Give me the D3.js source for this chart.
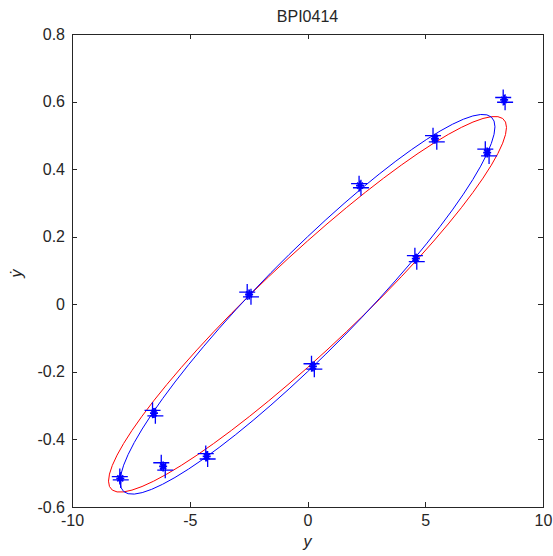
<!DOCTYPE html>
<html>
<head>
<meta charset="utf-8">
<script src="https://cdn.jsdelivr.net/npm/d3@7"></script>
<style>
  body { margin: 0; background: #fff; }
  svg { display: block; font-family: "Liberation Sans", Arial, sans-serif; }
</style>
</head>
<body>
<script>
// ---- data ----
let title = "BPI0414";
let xTicks = [-10, -5, 0, 5, 10];
let yTicks = [-0.6, -0.4, -0.2, 0, 0.2, 0.4, 0.6, 0.8];

// mean of each sample (drawn as a star)
let meanX = [-7.95, -6.52, -6.13, -4.28, -2.48, 0.23, 2.23, 4.60, 5.41, 7.63, 8.35];
let meanY = [-0.515, -0.322, -0.480, -0.450, 0.029, -0.184, 0.351, 0.135, 0.490, 0.449, 0.605];

// the two replicate measurements of each sample (drawn as plus signs)
let rep1X = [-7.97, -6.58, -6.21, -4.32, -2.56, 0.17, 2.19, 4.56, 5.33, 7.55, 8.31];
let rep1Y = [-0.510, -0.314, -0.469, -0.442, 0.036, -0.176, 0.357, 0.144, 0.499, 0.459, 0.612];
let rep2X = [-7.93, -6.46, -6.04, -4.24, -2.40, 0.29, 2.27, 4.64, 5.49, 7.71, 8.39];
let rep2Y = [-0.520, -0.330, -0.491, -0.458, 0.022, -0.192, 0.345, 0.126, 0.481, 0.439, 0.598];

// fitted ellipses: centre, half extent in x and y, correlation of x and y
let ellipseColor   = ["#ff0000", "#0000ff"];
let ellipseCenterX = [0, 0];
let ellipseCenterY = [0, 0];
let ellipseHalfX   = [8.45, 7.96];
let ellipseHalfY   = [0.556, 0.562];
let ellipseCorr    = [0.9415, 0.9347];

// ---- layout ----
let w = 553,
    h = 556,
    mLeft = 72, mRight = 543, mTop = 34, mBottom = 507,
    tick = 5;

let svg = d3.select("body")
            .append("svg")
            .attr("width", w)
            .attr("height", h);

let x = d3.scaleLinear().domain([-10, 10]).range([mLeft, mRight]);
let y = d3.scaleLinear().domain([-0.6, 0.8]).range([mBottom, mTop]);

let fmt = d => String(d).replace("\u2212", "-");

// axes with inward ticks on all four sides (box)
let axisStyle = g => {
  g.selectAll("path, line")
    .attr("stroke", "#262626")
    .attr("shape-rendering", "crispEdges");
  g.selectAll("text")
    .attr("fill", "#262626")
    .attr("font-size", "16px");
};

svg.append("g")
    .attr("transform", `translate(0,${mBottom})`)
    .call(d3.axisBottom(x).tickValues(xTicks).tickSizeInner(-tick).tickSizeOuter(0).tickPadding(8).tickFormat(fmt))
    .call(axisStyle);

svg.append("g")
    .attr("transform", `translate(0,${mTop})`)
    .call(d3.axisTop(x).tickValues(xTicks).tickSizeInner(-tick).tickSizeOuter(0).tickFormat(""))
    .call(axisStyle);

svg.append("g")
    .attr("transform", `translate(${mLeft},0)`)
    .call(d3.axisLeft(y).tickValues(yTicks).tickSizeInner(-tick).tickSizeOuter(0).tickPadding(7).tickFormat(fmt))
    .call(axisStyle);

svg.append("g")
    .attr("transform", `translate(${mRight},0)`)
    .call(d3.axisRight(y).tickValues(yTicks).tickSizeInner(-tick).tickSizeOuter(0).tickFormat(""))
    .call(axisStyle);

svg.selectAll(".domain").attr("fill", "none");

// title and axis labels
svg.append("text")
    .text(title)
    .attr("x", (mLeft + mRight) / 2)
    .attr("y", 22)
    .attr("text-anchor", "middle")
    .attr("font-size", "16px")
    .attr("fill", "#262626");

svg.append("text")
    .text("y")
    .attr("x", (mLeft + mRight) / 2)
    .attr("y", 547)
    .attr("text-anchor", "middle")
    .attr("font-size", "16px")
    .attr("font-style", "italic")
    .attr("fill", "#262626");

svg.append("text")
    .text("\u1E8F")
    .attr("transform", `translate(22,${(mTop + mBottom) / 2 + 3}) rotate(-90)`)
    .attr("text-anchor", "middle")
    .attr("font-size", "16px")
    .attr("font-style", "italic")
    .attr("fill", "#262626");

// ellipses: a unit circle mapped through the scales
let kx = x(1) - x(0),
    ky = y(1) - y(0);

svg.selectAll("circle.ellipse")
    .data(ellipseColor)
    .enter()
    .append("circle")
        .attr("class", "ellipse")
        .attr("r", 1)
        .attr("transform", (d, i) => {
          let hx = ellipseHalfX[i], hy = ellipseHalfY[i], r = ellipseCorr[i];
          return `matrix(${kx * hx},${ky * hy * r},0,${ky * hy * Math.sqrt(1 - r * r)},${x(ellipseCenterX[i])},${y(ellipseCenterY[i])})`;
        })
        .attr("fill", "none")
        .attr("stroke", d => d)
        .attr("stroke-width", 1)
        .attr("vector-effect", "non-scaling-stroke");

// replicate markers (+)
let plus = "M-8,0H8M0,-8V8";
let reps = rep1X.map((d, i) => [d, rep1Y[i]])
               .concat(rep2X.map((d, i) => [d, rep2Y[i]]));

svg.selectAll("path.rep")
    .data(reps)
    .enter()
    .append("path")
        .attr("class", "rep")
        .attr("d", plus)
        .attr("transform", d => `translate(${x(d[0])},${y(d[1])})`)
        .attr("fill", "none")
        .attr("stroke", "#0000ff")
        .attr("stroke-width", 1.3);

// sample means (*)
let star = "M-4,0H4M0,-5V5M-3,-3L3,3M-3,3L3,-3";

svg.selectAll("g.mean")
    .data(meanX)
    .enter()
    .append("g")
        .attr("class", "mean")
        .attr("transform", (d, i) => `translate(${x(d)},${y(meanY[i])})`)
        .each(function () {
          d3.select(this).append("path")
              .attr("d", star)
              .attr("stroke", "#0000ff")
              .attr("stroke-width", 1.8);
          d3.select(this).append("circle")
              .attr("r", 2.4)
              .attr("fill", "#0000ff");
        });
</script>
</body>
</html>
